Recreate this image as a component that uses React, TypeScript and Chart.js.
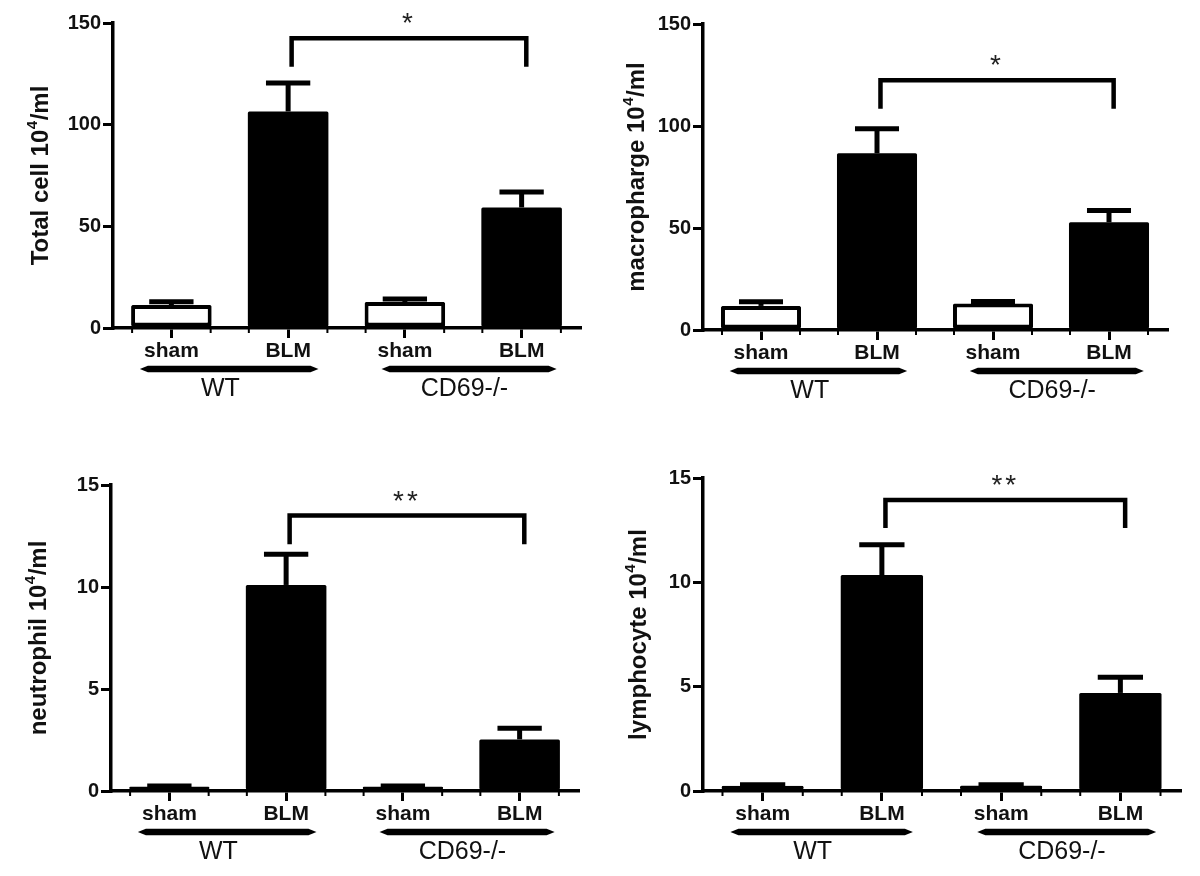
import React, { useEffect, useRef } from 'react';
import { Chart, registerables } from 'chart.js';

Chart.register(...registerables);

// ---------- data ----------
const categories = ['sham', 'BLM', 'sham', 'BLM'];
const groupLabels = ['WT', 'CD69-/-'];

const totalCellMean = [11.3, 106.5, 12.8, 59.3];
const totalCellSem = [1.6, 14.0, 1.5, 7.6];
const totalCellBracket = [142.5, 128.5]; // bar top, leg end
const totalCellStar = '*';

const macrophageMean = [11.8, 86.6, 13.0, 52.8];
const macrophageSem = [2.0, 12.0, 1.0, 5.8];
const macrophageBracket = [122.4, 108.5];
const macrophageStar = '*';

const neutrophilMean = [0.22, 10.1, 0.22, 2.53];
const neutrophilSem = [0.02, 1.5, 0.02, 0.55];
const neutrophilBracket = [13.5, 12.1];
const neutrophilStar = '**';

const lymphocyteMean = [0.25, 10.35, 0.26, 4.7];
const lymphocyteSem = [0.05, 1.45, 0.04, 0.75];
const lymphocyteBracket = [13.95, 12.6];
const lymphocyteStar = '**';

const bigAxisMax = 150;
const bigAxisStep = 50;
const smallAxisMax = 15;
const smallAxisStep = 5;

// ---------- layout / style ----------
const FONT = "'Liberation Sans', Arial, Helvetica, sans-serif";
const CW = 600;
const CH = 438;
const TEXT = '#111';

type Panel = {
  title: [string, string, string];
  mean: number[];
  sem: number[];
  bracket: number[];
  star: string;
  yMax: number;
  yStep: number;
  pos: { x: number; y: number };
  area: { l: number; r: number; t: number; b: number };
  titleX: number;
};

const panels: Panel[] = [
  {
    title: ['Total cell 10', '4', '/ml'],
    mean: totalCellMean, sem: totalCellSem, bracket: totalCellBracket, star: totalCellStar,
    yMax: bigAxisMax, yStep: bigAxisStep,
    pos: { x: 0, y: 0 }, area: { l: 113, r: 580, t: 23, b: 328 }, titleX: 41,
  },
  {
    title: ['macropharge 10', '4', '/ml'],
    mean: macrophageMean, sem: macrophageSem, bracket: macrophageBracket, star: macrophageStar,
    yMax: bigAxisMax, yStep: bigAxisStep,
    pos: { x: 600, y: 0 }, area: { l: 103, r: 567, t: 24, b: 330 }, titleX: 37,
  },
  {
    title: ['neutrophil 10', '4', '/ml'],
    mean: neutrophilMean, sem: neutrophilSem, bracket: neutrophilBracket, star: neutrophilStar,
    yMax: smallAxisMax, yStep: smallAxisStep,
    pos: { x: 0, y: 438 }, area: { l: 111, r: 578, t: 47, b: 353 }, titleX: 39,
  },
  {
    title: ['lymphocyte 10', '4', '/ml'],
    mean: lymphocyteMean, sem: lymphocyteSem, bracket: lymphocyteBracket, star: lymphocyteStar,
    yMax: smallAxisMax, yStep: smallAxisStep,
    pos: { x: 600, y: 438 }, area: { l: 103, r: 580, t: 40, b: 353 }, titleX: 39,
  },
];

const decorPlugin = {
  id: 'decor',
  afterDatasetsDraw(chart: any, _args: any, opts: any) {
    const { ctx, scales } = chart;
    const xs = scales.x;
    const ys = scales.y;
    const meta = chart.getDatasetMeta(0);
    ctx.save();
    ctx.strokeStyle = '#000';
    ctx.lineCap = 'butt';
    // error bars
    meta.data.forEach((bar: any, i: number) => {
      const p = bar.getProps(['x', 'y', 'width'], true);
      const top = ys.getPixelForValue(opts.mean[i] + opts.sem[i]);
      const capW = p.width * 0.55;
      ctx.lineWidth = 5;
      ctx.beginPath();
      ctx.moveTo(p.x, p.y);
      ctx.lineTo(p.x, top);
      ctx.stroke();
      ctx.beginPath();
      ctx.moveTo(p.x - capW / 2, top);
      ctx.lineTo(p.x + capW / 2, top);
      ctx.stroke();
    });
    // significance bracket
    const step = xs.getPixelForValue(1) - xs.getPixelForValue(0);
    const x1 = xs.getPixelForValue(1) + step * 0.03;
    const x2 = xs.getPixelForValue(3) + step * 0.04;
    const yTop = ys.getPixelForValue(opts.bracket[0]);
    const yLeg = ys.getPixelForValue(opts.bracket[1]);
    ctx.lineWidth = 4.5;
    ctx.lineJoin = 'miter';
    ctx.beginPath();
    ctx.moveTo(x1, yLeg);
    ctx.lineTo(x1, yTop);
    ctx.lineTo(x2, yTop);
    ctx.lineTo(x2, yLeg);
    ctx.stroke();
    ctx.fillStyle = '#222';
    ctx.font = `28px ${FONT}`;
    ctx.textAlign = 'center';
    ctx.textBaseline = 'alphabetic';
    (ctx as any).letterSpacing = '3px';
    ctx.fillText(opts.star, (x1 + x2) / 2, yTop - 6);
    (ctx as any).letterSpacing = '0px';
    ctx.restore();
  },
  afterDraw(chart: any, _args: any, opts: any) {
    const { ctx, scales, chartArea } = chart;
    const xs = scales.x;
    const meta = chart.getDatasetMeta(0);
    const step = xs.getPixelForValue(1) - xs.getPixelForValue(0);
    const base = chartArea.bottom;
    ctx.save();
    // small ticks at bar edges
    ctx.strokeStyle = '#000';
    ctx.lineWidth = 2;
    meta.data.forEach((bar: any) => {
      const p = bar.getProps(['x', 'width'], true);
      [p.x - p.width / 2 + 1, p.x + p.width / 2 - 1].forEach((ex) => {
        ctx.beginPath();
        ctx.moveTo(ex, base);
        ctx.lineTo(ex, base + 5);
        ctx.stroke();
      });
    });
    // group underlines + labels
    const lineY = base + 41;
    const groupSpans = [
      [xs.getPixelForValue(0) - step * 0.27, xs.getPixelForValue(1) + step * 0.26],
      [xs.getPixelForValue(2) - step * 0.2, xs.getPixelForValue(3) + step * 0.3],
    ];
    const labelShift = [-step * 0.08, step * 0.01];
    ctx.fillStyle = '#000';
    groupSpans.forEach(([a, b], gi) => {
      const h = 3.2;
      const tap = 8;
      ctx.beginPath();
      ctx.moveTo(a, lineY);
      ctx.lineTo(a + tap, lineY - h);
      ctx.lineTo(b - tap, lineY - h);
      ctx.lineTo(b, lineY);
      ctx.lineTo(b - tap, lineY + h);
      ctx.lineTo(a + tap, lineY + h);
      ctx.closePath();
      ctx.fill();
      const mid = (xs.getPixelForValue(gi * 2) + xs.getPixelForValue(gi * 2 + 1)) / 2 + labelShift[gi];
      ctx.fillStyle = TEXT;
      ctx.font = `25px ${FONT}`;
      ctx.textAlign = 'center';
      ctx.textBaseline = 'middle';
      ctx.fillText(groupLabels[gi], mid, base + 61);
      ctx.fillStyle = '#000';
    });
    // y-axis title with superscript
    const [t1, sup, t3] = opts.title;
    const big = `bold 24px ${FONT}`;
    const small = `bold 15px ${FONT}`;
    ctx.font = big;
    const w1 = ctx.measureText(t1).width;
    const w3 = ctx.measureText(t3).width;
    ctx.font = small;
    const w2 = ctx.measureText(sup).width + 1;
    const total = w1 + w2 + w3;
    const cy = (chartArea.top + chartArea.bottom) / 2;
    ctx.translate(opts.titleX, cy);
    ctx.rotate(-Math.PI / 2);
    ctx.fillStyle = TEXT;
    ctx.textAlign = 'left';
    ctx.textBaseline = 'middle';
    let cx = -total / 2;
    ctx.font = big;
    ctx.fillText(t1, cx, 0);
    cx += w1;
    ctx.font = small;
    ctx.fillText(sup, cx + 0.5, -8);
    cx += w2;
    ctx.font = big;
    ctx.fillText(t3, cx, 0);
    ctx.restore();
  },
};

function makeConfig(panel: Panel): any {
  const { area } = panel;
  return {
    type: 'bar',
    data: {
      labels: categories,
      datasets: [
        {
          data: panel.mean,
          backgroundColor: ['#ffffff', '#000000', '#ffffff', '#000000'],
          borderColor: '#000000',
          borderWidth: [4, 0, 4, 0],
          borderSkipped: false,
          borderRadius: 1.5,
          barPercentage: 0.69,
          categoryPercentage: 1,
        },
      ],
    },
    options: {
      responsive: false,
      animation: false,
      devicePixelRatio: 1,
      layout: { padding: { left: 0, top: area.t, right: CW - area.r, bottom: 0 } },
      plugins: {
        legend: { display: false },
        tooltip: { enabled: false },
        decor: {
          mean: panel.mean,
          sem: panel.sem,
          bracket: panel.bracket,
          star: panel.star,
          title: panel.title,
          titleX: panel.titleX,
        },
      },
      scales: {
        x: {
          offset: true,
          grid: {
            display: true,
            drawOnChartArea: false,
            drawTicks: true,
            offset: false,
            tickLength: 10,
            lineWidth: 3,
            color: '#000',
          },
          border: { display: true, color: '#000', width: 3.5 },
          ticks: {
            color: TEXT,
            padding: 1,
            font: { family: FONT, size: 21, weight: 'bold' },
          },
          afterFit: (s: any) => {
            s.height = CH - area.b;
          },
        },
        y: {
          min: 0,
          max: panel.yMax,
          ticks: {
            stepSize: panel.yStep,
            color: TEXT,
            padding: 2,
            font: { family: FONT, size: 20, weight: 'bold' },
          },
          grid: {
            display: true,
            drawOnChartArea: false,
            drawTicks: true,
            tickLength: 10,
            lineWidth: 3,
            color: '#000',
          },
          border: { display: true, color: '#000', width: 3.5 },
          afterFit: (s: any) => {
            s.width = area.l;
          },
        },
      },
    },
    plugins: [decorPlugin],
  };
}

function PanelChart({ panel }: { panel: Panel }) {
  const ref = useRef<HTMLCanvasElement>(null);
  useEffect(() => {
    const chart = new Chart(ref.current as HTMLCanvasElement, makeConfig(panel));
    return () => chart.destroy();
  }, [panel]);
  return (
    <canvas
      ref={ref}
      width={CW}
      height={CH}
      style={{ position: 'absolute', left: panel.pos.x, top: panel.pos.y, width: CW, height: CH }}
    />
  );
}

export default function App() {
  return (
    <div style={{ position: 'absolute', left: 0, top: 0, width: 1200, height: 876, background: '#fff', overflow: 'hidden' }}>
      {panels.map((p, i) => (
        <PanelChart key={i} panel={p} />
      ))}
    </div>
  );
}
